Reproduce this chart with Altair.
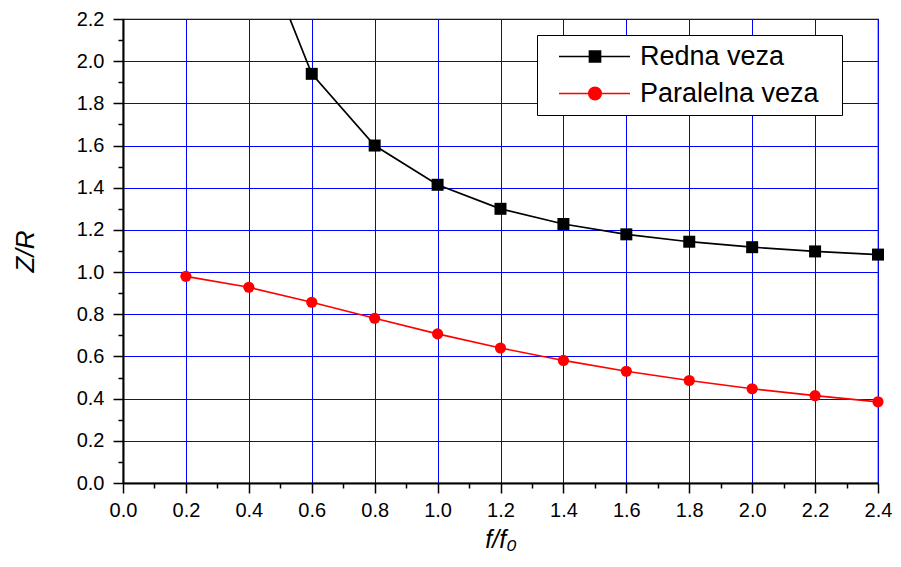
import altair as alt
import pandas as pd

# ---- data ----
series_names = ["Redna veza", "Paralelna veza"]
series_colors = ["#000000", "#FF0000"]

x_redna = [0.4, 0.6, 0.8, 1.0, 1.2, 1.4, 1.6, 1.8, 2.0, 2.2, 2.4]
z_redna = [2.69, 1.94, 1.60, 1.414, 1.30, 1.228, 1.179, 1.144, 1.118, 1.098, 1.083]

x_par = [0.2, 0.4, 0.6, 0.8, 1.0, 1.2, 1.4, 1.6, 1.8, 2.0, 2.2, 2.4]
z_par = [0.98, 0.928, 0.857, 0.781, 0.707, 0.640, 0.581, 0.530, 0.486, 0.447, 0.414, 0.385]

x_major = [0.0, 0.2, 0.4, 0.6, 0.8, 1.0, 1.2, 1.4, 1.6, 1.8, 2.0, 2.2, 2.4]
x_minor = [0.1, 0.3, 0.5, 0.7, 0.9, 1.1, 1.3, 1.5, 1.7, 1.9, 2.1, 2.3]
y_major = [0.0, 0.2, 0.4, 0.6, 0.8, 1.0, 1.2, 1.4, 1.6, 1.8, 2.0, 2.2]
y_minor = [0.1, 0.3, 0.5, 0.7, 0.9, 1.1, 1.3, 1.5, 1.7, 1.9, 2.1]

rows = []
for f, z in zip(x_redna, z_redna):
    rows.append({"f": f, "z": z, "series": series_names[0]})
for f, z in zip(x_par, z_par):
    rows.append({"f": f, "z": z, "series": series_names[1]})
df = pd.DataFrame(rows)

FONT = "Liberation Sans"

xs = alt.Scale(domain=[0, 2.4], nice=False, zero=False)
ys = alt.Scale(domain=[0, 2.2], nice=False, zero=False)
cscale = alt.Scale(domain=series_names, range=series_colors)

# legend symbols: line with marker drawn as custom paths (unit = 10 px);
# the trailing lone move-to only widens the legend box
legend_paths = [
    "M0.05,0H7.15M3.1,-0.55H4.2V0.55H3.1ZM27.2,0",
    "M0.05,0H7.15M3.03,0A0.62,0.62 0 1,0 4.27,0A0.62,0.62 0 1,0 3.03,0ZM27.2,0",
]

base = alt.Chart(df)

major_x_axis = alt.Axis(
    values=x_major, format=".1f", grid=True, gridColor="#0000FF", gridWidth=1,
    tickSize=10, tickWidth=1.5, tickColor="#000", domainColor="#000", domainWidth=2,
    labelFontSize=20, labelFont=FONT, labelColor="#000", labelPadding=7, labelFlush=False,
    title="f/f\u2080", titleFont=FONT, titleFontSize=25, titleFontStyle="italic",
    titleFontWeight="normal", titleColor="#000", titlePadding=7, orient="bottom",
)
major_y_axis = alt.Axis(
    values=y_major, format=".1f", grid=True, gridColor="#0000FF", gridWidth=1,
    tickSize=10, tickWidth=1.5, tickColor="#000", domainColor="#000", domainWidth=2,
    labelFontSize=20, labelFont=FONT, labelColor="#000", labelPadding=9, labelFlush=False,
    title="Z/R", titleFont=FONT, titleFontSize=26, titleFontStyle="italic",
    titleFontWeight="normal", titleColor="#000", titlePadding=38, orient="left",
)
minor_x_axis = alt.Axis(
    values=x_minor, labels=False, grid=False, domain=False, tickSize=5,
    tickWidth=1.5, tickColor="#000", title=None, orient="bottom",
)
minor_y_axis = alt.Axis(
    values=y_minor, labels=False, grid=False, domain=False, tickSize=5,
    tickWidth=1.5, tickColor="#000", title=None, orient="left",
)

lines = base.mark_line(clip=True, strokeWidth=1.7).encode(
    x=alt.X("f:Q", scale=xs, axis=major_x_axis),
    y=alt.Y("z:Q", scale=ys, axis=major_y_axis),
    color=alt.Color("series:N", scale=cscale, legend=None),
)

minor = base.mark_point(opacity=0).encode(
    x=alt.X("f:Q", scale=xs, axis=minor_x_axis),
    y=alt.Y("z:Q", scale=ys, axis=minor_y_axis),
)

squares = base.transform_filter(
    "datum.series == 'Redna veza' && datum.z <= 2.2"
).mark_square(size=144, opacity=1).encode(
    x=alt.X("f:Q", scale=xs, axis=None),
    y=alt.Y("z:Q", scale=ys, axis=None),
    color=alt.Color("series:N", scale=cscale, legend=None),
)

circles = base.transform_filter(
    "datum.series == 'Paralelna veza'"
).mark_circle(size=125, opacity=1).encode(
    x=alt.X("f:Q", scale=xs, axis=None),
    y=alt.Y("z:Q", scale=ys, axis=None),
    color=alt.Color("series:N", scale=cscale, legend=None),
)

leg = alt.Legend(title=None, orient="none", legendX=414, legendY=16)
legend_layer = base.mark_point(filled=True, opacity=0).encode(
    x=alt.X("f:Q", scale=xs, axis=None),
    y=alt.Y("z:Q", scale=ys, axis=None),
    fill=alt.Fill("series:N", scale=cscale, legend=leg),
    stroke=alt.Stroke("series:N", scale=cscale, legend=leg),
    shape=alt.Shape("series:N", scale=alt.Scale(domain=series_names, range=legend_paths), legend=leg),
)

chart = alt.layer(minor, lines, squares, circles, legend_layer).resolve_axis(
    x="independent", y="independent"
).resolve_scale(fill="independent", stroke="independent", shape="independent").properties(
    width=755, height=464,
    autosize=alt.AutoSizeParams(type="none"),
    padding={"left": 115, "top": 11, "right": 15, "bottom": 72},
    background="#FFFFFF",
).configure_view(
    stroke="#000", strokeWidth=1.2
).configure_legend(
    strokeColor="#000", fillColor="#FFF", padding=8,
    labelFontSize=27, labelFont=FONT, labelColor="#000", labelOffset=68, labelLimit=400,
    symbolSize=400, symbolStrokeWidth=1.7, rowPadding=9, symbolOpacity=1,
)

chart.save("out.html", embed_options={"renderer": "svg", "actions": False})
